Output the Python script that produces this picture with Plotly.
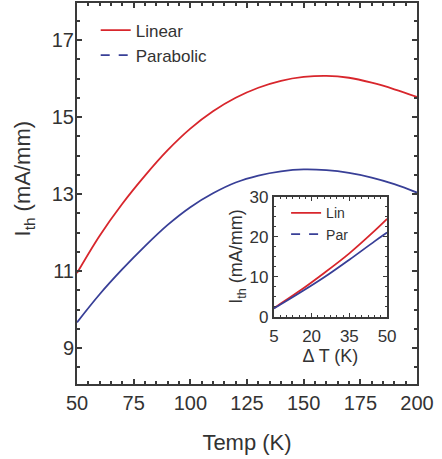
import plotly.graph_objects as go

# Main panel data
temp = [50, 60, 70, 80, 90, 100, 110, 120, 130, 140, 150, 160, 170, 180, 190, 200]
i_linear = [10.95, 11.92, 12.75, 13.48, 14.14, 14.70, 15.15, 15.50, 15.76, 15.94,
            16.04, 16.07, 16.02, 15.89, 15.72, 15.52]
i_parabolic = [9.67, 10.40, 11.05, 11.65, 12.20, 12.66, 13.02, 13.30, 13.48, 13.59,
               13.64, 13.62, 13.55, 13.43, 13.26, 13.04]

# Inset data
dT = [5, 15, 25, 35, 45, 50]
i_lin_inset = [2.1, 6.3, 10.9, 15.8, 21.4, 24.4]
i_par_inset = [2.0, 5.8, 9.8, 14.2, 18.8, 21.0]

main_xticks = [50, 75, 100, 125, 150, 175, 200]
main_yticks = [9, 11, 13, 15, 17]
inset_xticks = [5, 20, 35, 50]
inset_yticks = [0, 10, 20, 30]

RED = "#d8262c"
BLUE = "#383f97"
AX = "#3a3a3a"
TXT = "#333333"
FONT = "Liberation Sans"

fig = go.Figure()

# main curves
fig.add_trace(go.Scatter(x=temp, y=i_linear, mode="lines", line=dict(color=RED, width=1.8),
                         showlegend=False, xaxis="x", yaxis="y", line_shape="spline"))
fig.add_trace(go.Scatter(x=temp, y=i_parabolic, mode="lines", line=dict(color=BLUE, width=1.8),
                         showlegend=False, xaxis="x", yaxis="y", line_shape="spline"))
# main legend entries
fig.add_trace(go.Scatter(x=[None], y=[None], mode="lines", name="Linear",
                         line=dict(color=RED, width=1.8), legend="legend"))
fig.add_trace(go.Scatter(x=[None], y=[None], mode="lines", name="Parabolic",
                         line=dict(color=BLUE, width=1.8, dash="dash"), legend="legend"))

# inset curves
fig.add_trace(go.Scatter(x=dT, y=i_lin_inset, mode="lines", line=dict(color=RED, width=1.8),
                         showlegend=False, xaxis="x2", yaxis="y2", line_shape="spline"))
fig.add_trace(go.Scatter(x=dT, y=i_par_inset, mode="lines", line=dict(color=BLUE, width=1.8),
                         showlegend=False, xaxis="x2", yaxis="y2", line_shape="spline"))
fig.add_trace(go.Scatter(x=[None], y=[None], mode="lines", name="Lin", xaxis="x2", yaxis="y2",
                         line=dict(color=RED, width=1.8), legend="legend2"))
fig.add_trace(go.Scatter(x=[None], y=[None], mode="lines", name="Par", xaxis="x2", yaxis="y2",
                         line=dict(color=BLUE, width=1.8, dash="dash"), legend="legend2"))

axis_common = dict(showline=True, linecolor=AX, linewidth=2, mirror="ticks",
                   ticks="inside", tickcolor=AX, showgrid=False, zeroline=False,
                   automargin=False)

fig.update_layout(
    width=442, height=459,
    margin=dict(l=77, r=25, t=3, b=75, autoexpand=False),
    paper_bgcolor="white", plot_bgcolor="white",
    font=dict(family=FONT, color=TXT),
    xaxis=dict(range=[50, 200], tickvals=main_xticks, ticklen=5, tickwidth=1.5,
               tickfont=dict(size=20), domain=[0, 1],
               minor=dict(dtick=5, ticks="inside", ticklen=3, tickcolor=AX, showgrid=False),
               title=dict(text="Temp (K)", font=dict(size=22), standoff=22),
               **axis_common),
    yaxis=dict(range=[8.07, 17.96], tickvals=main_yticks, ticklen=5, tickwidth=1.5,
               tickfont=dict(size=20), domain=[0, 1], ticklabelstandoff=-3,
               minor=dict(dtick=0.5, ticks="inside", ticklen=3, tickcolor=AX, showgrid=False),
               **axis_common),
    xaxis2=dict(range=[5, 50], tickvals=inset_xticks, ticklen=4, tickwidth=1.2,
                tickfont=dict(size=17), domain=[0.579, 0.912], anchor="y2",
                ticklabelstandoff=3,
                minor=dict(dtick=2.5, ticks="inside", ticklen=2, tickcolor=AX, showgrid=False),
                title=dict(text="Δ T (K)", font=dict(size=18), standoff=2),
                **axis_common),
    yaxis2=dict(range=[0, 30], tickvals=inset_yticks, ticklen=4, tickwidth=1.2,
                tickfont=dict(size=17), domain=[0.177, 0.492], anchor="x2",
                minor=dict(dtick=2.5, ticks="inside", ticklen=2, tickcolor=AX, showgrid=False),
                title=dict(text="I<sub>th</sub> (mA/mm)", font=dict(size=18), standoff=2),
                **axis_common),
    legend=dict(x=0.055, y=0.975, xanchor="left", yanchor="top", bgcolor="rgba(0,0,0,0)",
                font=dict(size=17, color=TXT), itemwidth=30, tracegroupgap=0),
    legend2=dict(x=0.615, y=0.49, xanchor="left", yanchor="top", bgcolor="rgba(0,0,0,0)",
                 font=dict(size=14, color=TXT), itemwidth=30, tracegroupgap=0),
    annotations=[dict(text="I<sub>th</sub> (mA/mm)", textangle=-90, showarrow=False,
                      xref="paper", yref="paper", x=-0.156, y=0.5, yshift=15,
                      xanchor="center", yanchor="middle",
                      font=dict(size=22, color=TXT))],
)

fig.write_html("out.html", config={"displayModeBar": False},
               post_script="document.body.style.margin='0';")
